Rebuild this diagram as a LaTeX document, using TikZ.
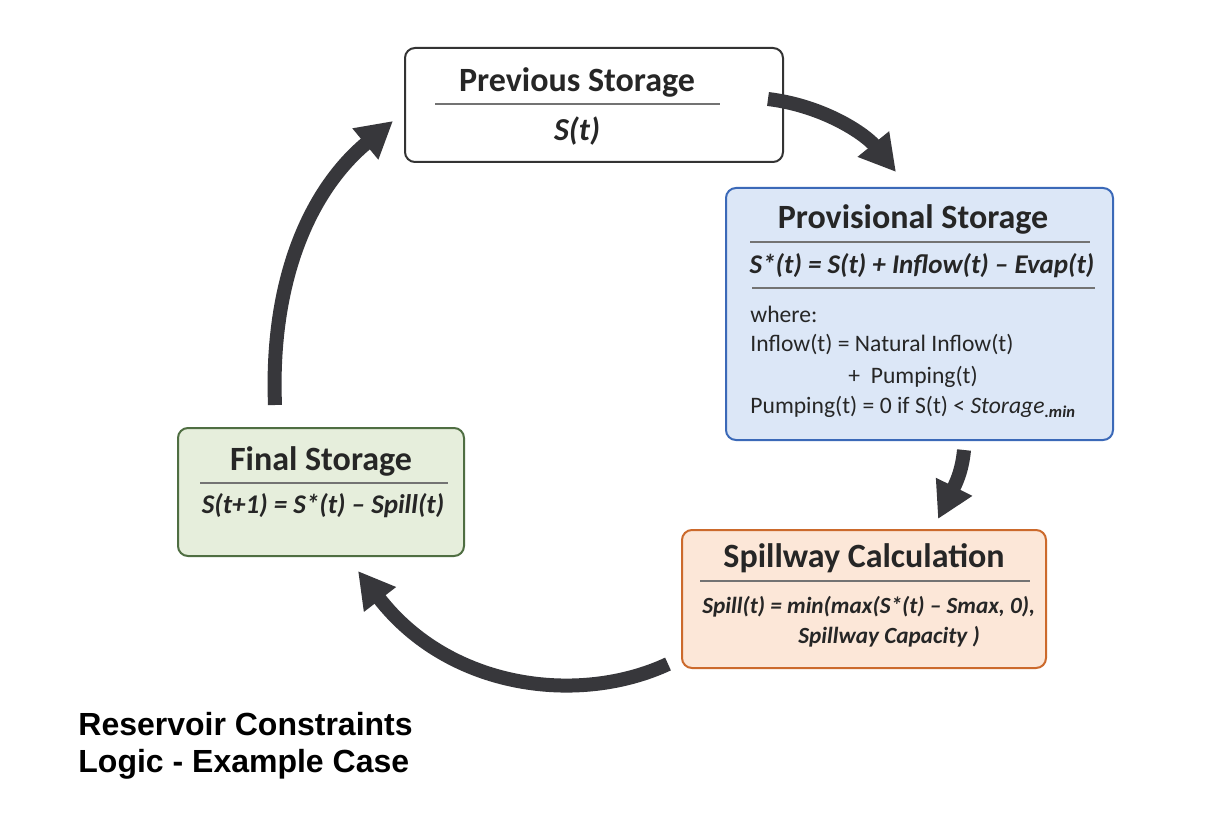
\documentclass[tikz,border=0pt]{standalone}
\usepackage{fontspec}
\setmainfont{Carlito}
\newfontfamily\capfont{Liberation Sans}
\usetikzlibrary{arrows.meta}
\definecolor{flowgray}{HTML}{37373B}
\definecolor{provfill}{HTML}{DCE7F7}
\definecolor{provline}{HTML}{3B69B8}
\definecolor{finfill}{HTML}{E6EEDC}
\definecolor{finline}{HTML}{4F6E42}
\definecolor{spillfill}{HTML}{FCE7D8}
\definecolor{spillline}{HTML}{CC6A2C}
\begin{document}
\begin{tikzpicture}[x=0.5pt,y=-0.5pt]
		\tikzstyle{every node}+=[inner sep=0pt, text=black!85]
		\tikzstyle{box}=[draw, rounded corners=5pt, line width=1pt]
		\tikzstyle{head}=[font=\fontsize{17}{20}\selectfont\bfseries]
		\tikzstyle{eqn}=[font=\fontsize{13.5}{16}\selectfont\bfseries\itshape]
		\tikzstyle{smalleqn}=[font=\fontsize{11.6}{14}\selectfont\bfseries\itshape, anchor=west]
		\tikzstyle{body}=[font=\fontsize{11.8}{14}\selectfont, anchor=west]
		\tikzstyle{rule}=[draw=black!55, line width=0.6pt]
		\tikzstyle{flow}=[flowgray, line width=7pt, -{Triangle[length=18pt,width=19pt]}]
		\useasboundingbox [fill=white] (0,0) rectangle (1231,818);
		% boxes
		\node [box, draw=black!80, fill=white, minimum width=189pt, minimum height=57pt] (prev) at (594,105) {};
		\node [box, draw=provline, fill=provfill, minimum width=193.5pt, minimum height=126pt] (prov) at (919.5,314) {};
		\node [box, draw=finline, fill=finfill, minimum width=143pt, minimum height=64pt] (fin) at (321,492) {};
		\node [box, draw=spillline, fill=spillfill, minimum width=182pt, minimum height=69pt] (spill) at (864,599) {};
		% previous storage
		\node [head] (prevtitle) at (577,82) {Previous Storage};
		\draw [rule] (435,104) -- (720,104);
		\node [eqn, font=\fontsize{16}{19}\selectfont\bfseries\itshape] (preveq) at (577,131) {S(t)};
		% provisional storage
		\node [head] (provtitle) at (913,219) {Provisional Storage};
		\draw [rule] (750,242) -- (1090,242);
		\node [eqn] (proveq) at (922,266) {S*(t) = S(t) + Inflow(t) – Evap(t)};
		\draw [rule] (752,288) -- (1095,288);
		\node [body] (where) at (750,314) {where:};
		\node [body] (inflow) at (750,345) {Inflow(t) = Natural Inflow(t)};
		\node [body] (pump) at (848,377) {+\ \ Pumping(t)};
		\node [body] (pumprule) at (750,407) {Pumping(t) = 0 if S(t) < \textit{Storage}\textsubscript{\bfseries\itshape .min}};
		% final storage
		\node [head] (fintitle) at (321,461) {Final Storage};
		\draw [rule] (200,483) -- (448,483);
		\node [eqn] (fineq) at (323,506) {S(t+1) = S*(t) – Spill(t)};
		% spillway
		\node [head] (spilltitle) at (864,558) {Spillway Calculation};
		\draw [rule] (700,581) -- (1030,581);
		\node [smalleqn] (spilleq) at (702,607) {Spill(t) = min(max(S*(t) – Smax, 0),};
		\node [smalleqn] (spillcap) at (798,637) {Spillway Capacity )};
		% cycle arrows
		\coordinate (a1s) at (768,99);
		\coordinate (a1e) at (896,172);
		\draw [flow] (a1s) .. controls (825,106) and (866,135) .. (a1e);
		\coordinate (a2s) at (964,450);
		\coordinate (a2e) at (938,519);
		\draw [flow] (a2s) .. controls (962,472) and (955,485) .. (a2e);
		\coordinate (a3s) at (668,664);
		\coordinate (a3e) at (358,571);
		\draw [flow] (a3s) .. controls (580,705) and (450,690) .. (a3e);
		\coordinate (a4s) at (275,405);
		\coordinate (a4e) at (393,121);
		\draw [flow] (a4s) .. controls (270,280) and (310,190) .. (a4e);
		% caption
		\node [anchor=north west, align=left, font=\capfont\fontsize{16}{18.5}\selectfont\bfseries, text=black] (caption) at (78,712) {Reservoir Constraints\\Logic - Example Case};
\end{tikzpicture}
\end{document}
